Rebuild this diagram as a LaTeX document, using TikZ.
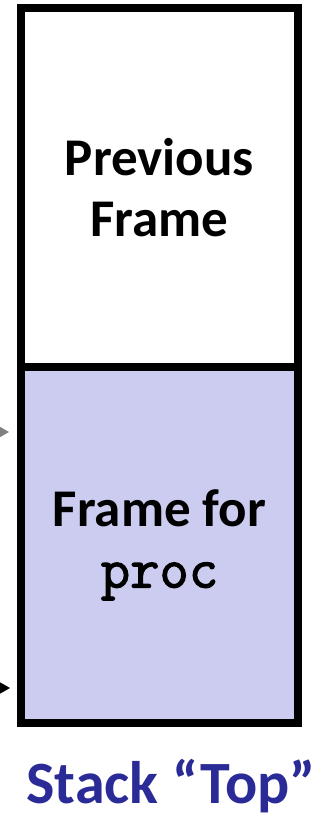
\documentclass[tikz,border=0pt]{standalone}
\usepackage{fontspec}
\setmainfont{Carlito}
\newfontfamily\codefont[FakeBold=2]{Latin Modern Mono}
\usetikzlibrary{positioning,arrows.meta}
\definecolor{framefill}{RGB}{204,204,240}
\definecolor{stacknavy}{RGB}{43,43,151}
\definecolor{ptrgray}{RGB}{128,128,128}
\tikzset{
  framebox/.style={draw,line width=8pt,minimum width=277pt,inner sep=0pt,
    align=center,font=\fontsize{53}{61}\selectfont\bfseries},
  ptr/.style={-{Triangle[length=10pt,width=11pt]},line width=1.5pt}
}
\begin{document}
\begin{tikzpicture}[x=1pt,y=-1pt]
      \useasboundingbox (0,0) rectangle (327,819);
      \clip (0,0) rectangle (327,819);
      % the two frames of the stack
      \node[framebox,fill=framefill,minimum height=356pt] (proc) at (159.5,545)
        {Frame for\\{\codefont\fontsize{57}{61}\selectfont proc}};
      \node[framebox,minimum height=359pt] (prev) at (159.5,187.5) {Previous\\Frame};
      % pointers coming in from the left
      \coordinate (fp) at (-30,432);
      \coordinate (sp) at (-30,688);
      \draw[ptr,ptrgray] (fp) -- (9,432);
      \draw[ptr,black] (sp) -- (10,688);
      % caption
      \node[text=stacknavy,font=\fontsize{60}{70}\selectfont\bfseries,inner sep=0pt,anchor=base] (top) at (171,803) {Stack “Top”};
\end{tikzpicture}
\end{document}
